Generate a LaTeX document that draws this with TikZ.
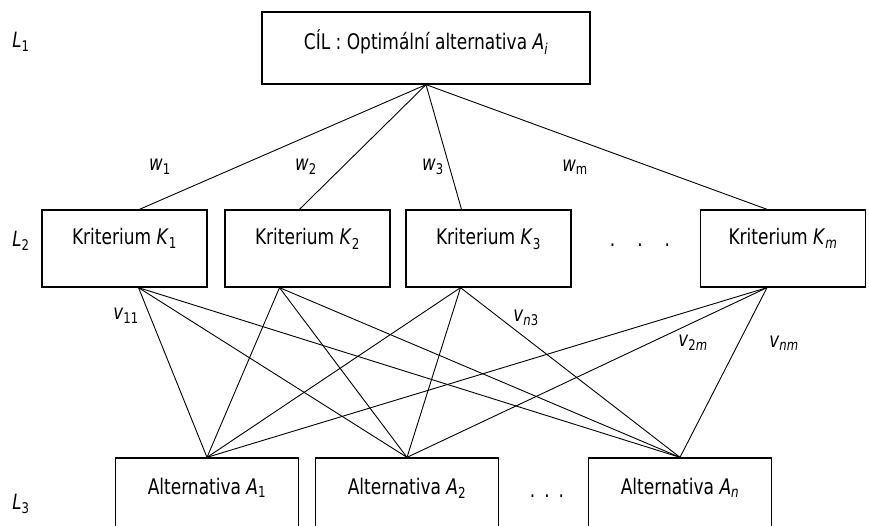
\documentclass[tikz,border=0pt]{standalone}
\usepackage{fontspec}
\setmainfont{DejaVu Sans Condensed}[FakeStretch=0.88]
\usetikzlibrary{positioning}
\newcommand{\ix}[2]{\textit{#1}\textsubscript{#2}}

\begin{document}
\begin{tikzpicture}[
  x=1pt, y=-1pt,
  every node/.style={font=\fontsize{21.5}{24}\selectfont},
  goalbox/.style={draw,line width=1.3pt,minimum width=328,inner sep=0pt,text height=38,text depth=34},
  critbox/.style={draw,line width=1.3pt,minimum width=165,inner sep=0pt,text height=35,text depth=42},
  altbox/.style={draw,line width=1.3pt,minimum width=183,inner sep=0pt,text height=36,text depth=41},
  link/.style={line width=0.9pt},
  weight/.style={font=\fontsize{21}{23}\selectfont,inner sep=1pt},
  level/.style={font=\fontsize{21}{23}\selectfont,inner sep=1pt}
]
  \useasboundingbox (0,0) rectangle (869,526);

  % Levels of the hierarchy.
  \node[level] (l1) at (21,42) {\ix{L}{1}};
  \node[level] (l2) at (21,241) {\ix{L}{2}};
  \node[level] (l3) at (21,504) {\ix{L}{3}};

  % Goal, criteria and alternatives.
  \node[goalbox] (goal) at (426,48) {CÍL : Optimální alternativa \ix{A}{\textit{i}}};

  \node[critbox] (k1) at (124.5,248.5) {Kriterium \ix{K}{1}};
  \node[critbox] (k2) at (307.5,248.5) {Kriterium \ix{K}{2}};
  \node[critbox] (k3) at (488.5,248.5) {Kriterium \ix{K}{3}};
  \node[anchor=base] (kdots) at (640,247) {.\hspace{22pt}.\hspace{22pt}.};
  \node[critbox] (km) at (783,248.5) {Kriterium \ix{K}{\textit{m}}};

  \node[altbox] (a1) at (207,496.5) {Alternativa \ix{A}{1}};
  \node[altbox] (a2) at (407,496.5) {Alternativa \ix{A}{2}};
  \node[anchor=base] (adots) at (547,497) {.\hspace{9pt}.\hspace{9pt}.};
  \node[altbox] (an) at (680,496.5) {Alternativa \ix{A}{\textit{n}}};

  % Weights of the criteria.
  \foreach \k/\s in {k1/15,k2/-8,k3/-27,km/-16} {
    \draw[link] (goal.south) -- ([xshift=\s]\k.north);
  }
  % Every criterion to every alternative.
  \foreach \k/\s in {k1/14,k2/-28,k3/-28,km/-16} {
    \foreach \a in {a1,a2,an} {
      \draw[link] ([xshift=\s]\k.south) -- (\a.north);
    }
  }

  \node[weight] (w1) at (160,167) {\ix{w}{1}};
  \node[weight] (w2) at (306,167) {\ix{w}{2}};
  \node[weight] (w3) at (433,167) {\ix{w}{3}};
  \node[weight] (wm) at (575,167) {\ix{w}{m}};

  \node[weight] (v11) at (126,316) {\ix{v}{11}};
  \node[weight] (vn3) at (526,318) {\ix{v}{\textit{n}3}};
  \node[weight] (v2m) at (693,343) {\ix{v}{2\textit{m}}};
  \node[weight] (vnm) at (784,343) {\ix{v}{\textit{nm}}};
\end{tikzpicture}
\end{document}
